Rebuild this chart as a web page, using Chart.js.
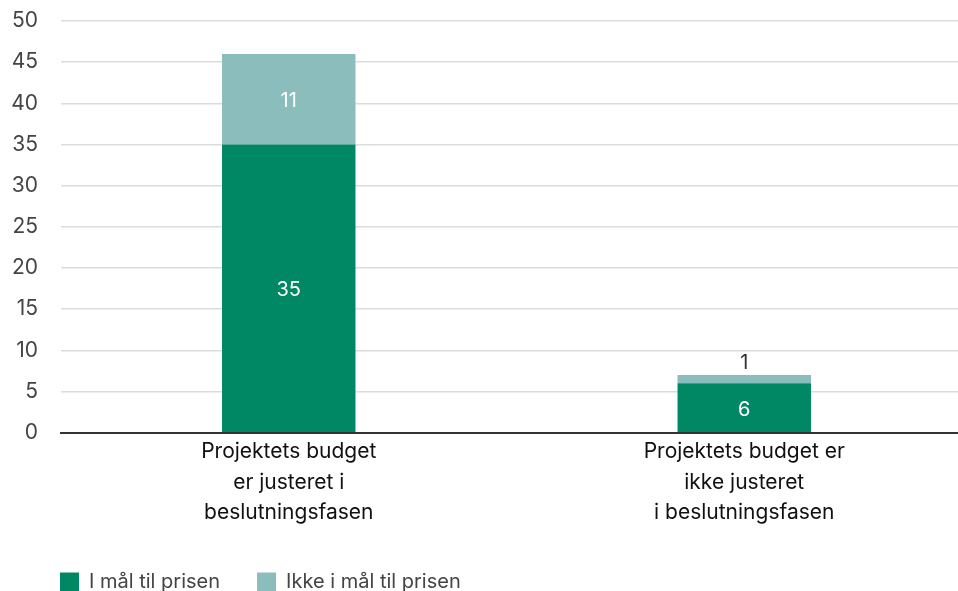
<!DOCTYPE html>
<html>
<head>
<meta charset="utf-8">
<script src="https://cdn.jsdelivr.net/npm/chart.js@4/dist/chart.umd.min.js"></script>
<style>
  html, body { margin: 0; padding: 0; background: #fff; overflow: hidden; }
  #wrap { position: relative; width: 972px; height: 599px; }
</style>
</head>
<body>
<div id="wrap"><canvas id="budgetChart"></canvas></div>
<script>
// Categories and series
const categories = [
  ['Projektets budget', 'er justeret i', 'beslutningsfasen'],
  ['Projektets budget er', 'ikke justeret', 'i beslutningsfasen']
];
const inPrice = [35, 6];
const notInPrice = [11, 1];
const yTicks = [0, 5, 10, 15, 20, 25, 30, 35, 40, 45, 50];

const GREEN = '#008763';
const TEAL = '#8BBDBD';
const FONT = "Inter, 'Helvetica Neue', Arial, sans-serif";

// Writes each segment's value in the middle of its bar piece,
// or above the stack when the piece is too thin
const valueLabels = {
  id: 'valueLabels',
  afterDatasetsDraw(chart) {
    const { ctx } = chart;
    ctx.save();
    ctx.font = '20px ' + FONT;
    ctx.textAlign = 'center';
    ctx.textBaseline = 'middle';
    chart.data.datasets.forEach((ds, di) => {
      const meta = chart.getDatasetMeta(di);
      meta.data.forEach((bar, i) => {
        const h = Math.abs(bar.base - bar.y);
        if (h > 24) {
          ctx.fillStyle = '#fff';
          ctx.fillText(ds.data[i], bar.x, (bar.y + bar.base) / 2 + 2);
        } else {
          ctx.fillStyle = '#333';
          ctx.fillText(ds.data[i], bar.x, bar.y - 12);
        }
      });
    });
    ctx.restore();
  }
};

// Pushes the legend over so it lines up with the plot's left edge
const legendOffset = {
  id: 'legendOffset',
  afterLayout(chart) {
    const lg = chart.legend;
    const pad = lg.options.labels.padding;
    const dx = chart.chartArea.left - 1 - lg.left - pad;
    lg.left += dx;
    lg.right += dx;
    lg.top += 3;
    lg.bottom += 3;
  }
};

new Chart(document.getElementById('budgetChart'), {
  type: 'bar',
  data: {
    labels: categories,
    datasets: [
      { label: 'I mål til prisen', data: inPrice, backgroundColor: GREEN },
      { label: 'Ikke i mål til prisen', data: notInPrice, backgroundColor: TEAL }
    ]
  },
  options: {
    responsive: true,
    maintainAspectRatio: false,
    animation: false,
    layout: { padding: 0 },
    datasets: { bar: { categoryPercentage: 1, barPercentage: 0.293 } },
    plugins: {
      legend: {
        position: 'bottom',
        align: 'start',
        labels: {
          boxWidth: 19,
          boxHeight: 19,
          padding: 37,
          color: '#444',
          font: { family: FONT, size: 20 }
        }
      },
      tooltip: { enabled: false }
    },
    scales: {
      x: {
        stacked: true,
        grid: { display: false, drawTicks: false },
        border: { color: '#333', width: 2 },
        ticks: {
          color: '#111',
          padding: 4,
          font: { family: FONT, size: 21, lineHeight: 1.45 },
          maxRotation: 0
        }
      },
      y: {
        stacked: true,
        min: 0,
        max: 50,
        afterBuildTicks(axis) {
          axis.ticks = yTicks.map(v => ({ value: v }));
        },
        afterFit(axis) {
          axis.width = 61;
          axis.paddingTop = 21;
          axis.paddingBottom = 0;
        },
        grid: { color: '#dcdcdc', lineWidth: 1.5, drawTicks: false },
        border: { display: false },
        ticks: {
          color: '#444',
          padding: 23,
          font: { family: FONT, size: 21 }
        }
      }
    }
  },
  plugins: [valueLabels, legendOffset]
});
</script>
</body>
</html>
